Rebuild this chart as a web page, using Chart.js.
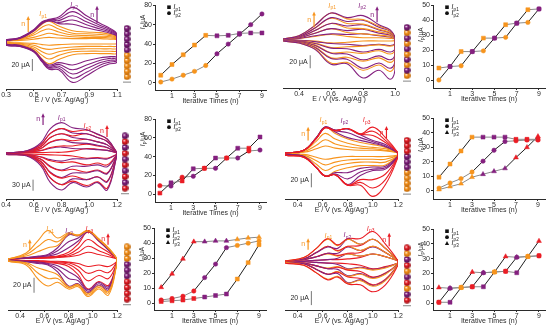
<!DOCTYPE html>
<html>
<head>
<meta charset="utf-8">
<script src="https://cdn.jsdelivr.net/npm/chart.js@4.4.0/dist/chart.umd.min.js"></script>
<style>
  html, body { margin: 0; padding: 0; background: #fff; }
  #fig { position: relative; width: 550px; height: 330px; overflow: hidden; }
  #fig canvas { position: absolute; }
</style>
</head>
<body>
<div id="fig"></div>
<script>
const FONT = "'Liberation Sans', Arial, sans-serif";
const INK = '#2b2b2b';
const COL = { o: '#f7941d', p: '#84207f', r: '#ea1d25' };
const COL_DARK = { o: '#b85f00', p: '#4a0c47', r: '#8e0a0f' };

const iterations = [0, 1, 2, 3, 4, 5, 6, 7, 8, 9];

// deposited layers, first (bottom bead) to last
const layersA = ['o', 'o', 'o', 'o', 'o', 'p', 'p', 'p', 'p', 'p'];
const layersB = ['o', 'p', 'o', 'p', 'o', 'p', 'o', 'p', 'o', 'p'];
const layersC = ['r', 'p', 'r', 'p', 'r', 'p', 'r', 'p', 'r', 'p'];
const layersD = ['o', 'o', 'o', 'o', 'p', 'p', 'p', 'r', 'r', 'r'];
const layersE = ['r', 'r', 'r', 'r', 'p', 'p', 'p', 'o', 'o', 'o'];
const layersF = ['r', 'p', 'o', 'r', 'p', 'o', 'r', 'p', 'o', 'r'];

// peak currents (uA) against iteration
const ipA1 = [8, 19, 29, 39, 49, 48.5, 49, 51, 51.5, 51.5];
const ipA2 = [1, 4, 8, 12, 18, 30, 40, 50, 60, 71];
const ipB1 = [8, 9, 19, 19, 28, 28, 37, 38, 47, 47.5];
const ipB2 = [0, 9, 9.5, 19, 19.5, 28, 28.5, 38, 38.5, 47.5];
const ipC1 = [1, 12, 14, 27, 27.5, 38.5, 38.5, 49, 49, 61];
const ipC2 = [9, 8.5, 18, 19, 27.5, 27.5, 38.5, 38.5, 46, 47];
const ipD1 = [9.5, 18.5, 27.5, 37, 37, 37, 37, 35.5, 35.5, 35.5];
const ipD2 = [2, 5.5, 8.5, 13, 20.5, 28, 34, 34.5, 35, 35];
const ipD3 = [1, 3, 5, 9.5, 11.5, 13.5, 15.5, 23, 30, 37.5];
const ipE1 = [1, 1.5, 2, 3, 4, 5, 6, 16, 27, 39];
const ipE2 = [2, 3, 4.5, 8, 17, 26, 37, 38.5, 40, 41.5];
const ipE3 = [10.5, 19.5, 29.5, 41, 41, 41.5, 41.5, 42.5, 43.5, 44];
const ipF1 = [0.5, 0.5, 10.5, 11, 11, 21, 21.5, 20.5, 31.5, 32];
const ipF2 = [0.5, 10, 10.5, 11, 20.5, 21, 21.5, 31, 31.5, 32];
const ipF3 = [10.5, 10, 10.5, 21, 20.5, 21, 31.5, 31, 31.5, 42];

// voltammograms: potential grid (V) and current (uA) on the forward / reverse sweep
const cvA_E = [0.30, 0.40, 0.50, 0.56, 0.61, 0.68, 0.78, 0.88, 0.98, 1.05, 1.10];
const cvA_up = [
  [0, 1, 3, 5, 6, 5, 4, 4, 4, 3, 2],
  [0, 2, 6, 10, 13, 10, 7, 6, 6, 5, 3],
  [0, 3, 10, 17, 20, 15, 10, 9, 8, 7, 4],
  [0, 3, 13, 23, 27, 20, 13, 12, 11, 9, 5],
  [1, 4, 16, 28, 33, 25, 17, 15, 14, 11, 6],
  [1, 4, 17, 29, 34, 29, 28, 22, 17, 13, 7],
  [1, 5, 17, 30, 34, 31, 35, 27, 20, 15, 8],
  [1, 5, 18, 30, 35, 34, 42, 32, 23, 17, 9],
  [2, 5, 18, 31, 35, 37, 49, 37, 26, 19, 10],
  [2, 6, 19, 32, 36, 40, 56, 42, 29, 21, 11]
];
const cvA_down = [
  [-2, -3, -4, -6, -7, -6, -5, -5, -5, -5, -4],
  [-3, -4, -7, -12, -14, -12, -10, -9, -9, -9, -8],
  [-4, -5, -10, -18, -22, -18, -14, -13, -13, -13, -12],
  [-4, -6, -13, -24, -30, -24, -18, -17, -17, -17, -16],
  [-5, -7, -15, -30, -38, -31, -23, -21, -21, -21, -20],
  [-5, -7, -16, -31, -40, -36, -40, -33, -28, -26, -24],
  [-6, -8, -17, -32, -42, -39, -48, -40, -32, -29, -27],
  [-6, -8, -17, -33, -44, -42, -55, -46, -36, -32, -30],
  [-7, -9, -18, -34, -45, -45, -62, -52, -40, -35, -32],
  [-7, -9, -18, -35, -47, -48, -69, -58, -44, -38, -35]
];

const cvB_E = [0.30, 0.40, 0.50, 0.60, 0.70, 0.80, 0.90, 0.97, 1.00];
const cvB_up = [
  [0, 1, 4, 7, 4, 2, 2, 1, 0],
  [0, 1, 5, 8, 7, 8, 5, 3, 0],
  [0, 2, 9, 16, 10, 8, 6, 4, 0],
  [0, 2, 9, 16, 13, 15, 9, 6, 0],
  [0, 3, 13, 24, 17, 16, 11, 7, 0],
  [0, 3, 13, 24, 20, 22, 14, 9, 1],
  [0, 4, 17, 32, 24, 23, 15, 10, 1],
  [0, 4, 17, 33, 27, 29, 18, 12, 1],
  [0, 5, 21, 40, 31, 30, 20, 13, 1],
  [0, 5, 21, 40, 33, 36, 22, 14, 1]
];
const cvB_down = [
  [-1, -2, -3, -6, -5, -3, -3, -3, -2],
  [-1, -2, -4, -7, -8, -10, -8, -10, -7],
  [-1, -3, -6, -13, -12, -11, -9, -11, -8],
  [-1, -3, -7, -14, -15, -20, -16, -20, -15],
  [-2, -4, -9, -21, -20, -22, -18, -23, -17],
  [-2, -4, -10, -22, -23, -32, -26, -32, -24],
  [-2, -5, -12, -29, -28, -34, -29, -36, -27],
  [-2, -5, -13, -30, -31, -45, -37, -45, -34],
  [-3, -6, -15, -37, -36, -48, -40, -50, -37],
  [-3, -6, -16, -39, -38, -60, -48, -62, -47]
];

const cvC_E = [0.40, 0.55, 0.65, 0.72, 0.80, 0.88, 0.98, 1.06, 1.13, 1.20];
const cvC_up = [
  [0, 1, 1, 2, 2, 5, 12, 10, 7, 0],
  [0, 2, 6, 13, 16, 12, 11, 9, 7, 0],
  [0, 2, 7, 15, 19, 19, 24, 19, 14, 0],
  [0, 3, 12, 29, 36, 28, 26, 21, 15, 0],
  [0, 3, 12, 30, 37, 33, 37, 30, 22, 0],
  [0, 4, 17, 42, 52, 42, 37, 30, 22, 0],
  [0, 4, 17, 42, 52, 46, 52, 42, 31, 0],
  [0, 5, 22, 53, 66, 54, 52, 42, 31, 0],
  [0, 5, 22, 53, 66, 58, 62, 50, 37, 0],
  [0, 6, 27, 66, 82, 68, 63, 51, 38, 0]
];
const cvC_down = [
  [-2, -3, -4, -5, -6, -8, -14, -12, -14, -3],
  [-2, -4, -10, -18, -22, -16, -16, -14, -16, -3],
  [-2, -4, -11, -21, -26, -24, -32, -27, -32, -3],
  [-2, -5, -16, -36, -46, -36, -36, -32, -37, -4],
  [-3, -5, -17, -38, -48, -44, -52, -46, -54, -4],
  [-3, -6, -22, -52, -66, -54, -54, -48, -56, -4],
  [-3, -6, -23, -54, -68, -62, -72, -64, -76, -5],
  [-3, -7, -28, -67, -85, -70, -72, -65, -78, -5],
  [-4, -7, -29, -68, -86, -76, -88, -78, -95, -5],
  [-4, -8, -34, -80, -100, -80, -92, -80, -100, -5]
];

const cvD_E = [0.30, 0.45, 0.55, 0.62, 0.70, 0.80, 0.90, 1.00, 1.10, 1.20];
const cvD_up = [
  [0, 1, 6, 10, 7, 5, 4, 4, 3, 0],
  [0, 2, 11, 19, 13, 9, 7, 6, 4, 0],
  [0, 3, 17, 28, 20, 14, 10, 8, 6, 0],
  [0, 4, 22, 37, 28, 20, 15, 12, 8, 0],
  [0, 4, 22, 37, 30, 22, 18, 14, 9, 0],
  [0, 4, 22, 37, 32, 29, 22, 16, 10, 0],
  [0, 4, 22, 37, 33, 34, 26, 18, 12, 0],
  [0, 4, 21, 36, 32, 35, 27, 25, 15, 0],
  [0, 4, 21, 36, 32, 35, 27, 31, 18, 0],
  [0, 4, 21, 36, 32, 35, 27, 37, 22, 0]
];
const cvD_down = [
  [-1, -2, -6, -9, -7, -5, -5, -5, -5, -3],
  [-1, -3, -11, -17, -13, -10, -9, -9, -9, -3],
  [-2, -4, -16, -25, -19, -15, -13, -13, -13, -4],
  [-2, -5, -21, -33, -26, -21, -18, -18, -17, -4],
  [-2, -5, -21, -33, -28, -28, -22, -20, -19, -4],
  [-2, -5, -21, -33, -30, -37, -27, -23, -21, -5],
  [-2, -5, -21, -33, -31, -45, -32, -25, -23, -5],
  [-3, -6, -21, -33, -31, -46, -38, -38, -30, -5],
  [-3, -6, -21, -33, -31, -46, -42, -50, -38, -5],
  [-3, -6, -21, -33, -31, -46, -46, -62, -45, -6]
];

const cvE_E = [0.30, 0.45, 0.55, 0.63, 0.71, 0.80, 0.88, 0.96, 1.05, 1.13, 1.20];
const cvE_up = [
  [0, 1, 1, 1, 2, 3, 5, 9, 6, 3, 0],
  [0, 1, 1, 2, 3, 4, 9, 17, 11, 6, 0],
  [0, 1, 2, 2, 3, 6, 14, 26, 17, 9, 0],
  [0, 1, 2, 3, 4, 9, 20, 36, 24, 12, 0],
  [0, 1, 3, 4, 7, 15, 24, 36, 24, 12, 0],
  [0, 2, 3, 5, 11, 23, 28, 37, 25, 13, 0],
  [0, 2, 4, 6, 15, 32, 31, 37, 25, 13, 0],
  [0, 4, 10, 15, 18, 33, 31, 37, 26, 14, 0],
  [0, 6, 17, 26, 23, 34, 32, 38, 26, 14, 0],
  [0, 8, 25, 38, 28, 35, 32, 38, 27, 15, 0]
];
const cvE_down = [
  [-1, -2, -2, -3, -3, -4, -6, -10, -8, -10, -3],
  [-1, -2, -3, -3, -4, -5, -10, -19, -15, -18, -3],
  [-1, -2, -3, -4, -5, -7, -15, -29, -22, -26, -4],
  [-2, -3, -4, -5, -6, -10, -21, -40, -30, -35, -4],
  [-2, -3, -4, -6, -9, -17, -25, -41, -31, -37, -4],
  [-2, -3, -5, -7, -13, -26, -29, -43, -33, -39, -5],
  [-2, -4, -6, -8, -17, -36, -33, -45, -35, -41, -5],
  [-2, -5, -12, -16, -21, -37, -34, -46, -36, -43, -5],
  [-3, -6, -19, -26, -26, -38, -35, -48, -38, -45, -5],
  [-3, -8, -27, -36, -31, -40, -37, -50, -40, -48, -6]
];

const cvF_E = [0.30, 0.45, 0.55, 0.64, 0.72, 0.80, 0.90, 1.00, 1.10, 1.20];
const cvF_up = [
  [0, 0, 1, 2, 2, 3, 5, 10, 6, 0],
  [0, 0, 1, 2, 4, 10, 7, 10, 6, 0],
  [0, 2, 6, 10, 7, 10, 7, 10, 6, 0],
  [0, 2, 6, 11, 8, 11, 12, 21, 12, 0],
  [0, 2, 6, 11, 11, 20, 15, 20, 12, 0],
  [0, 3, 12, 21, 14, 21, 15, 21, 12, 0],
  [0, 3, 12, 21, 15, 21, 22, 31, 18, 0],
  [0, 3, 12, 20, 18, 31, 24, 31, 18, 0],
  [0, 5, 18, 31, 22, 31, 24, 31, 18, 0],
  [0, 5, 18, 32, 23, 32, 32, 42, 24, 0]
];
const cvF_down = [
  [-1, -1, -2, -3, -3, -4, -6, -11, -8, -3],
  [-1, -1, -2, -3, -5, -11, -9, -12, -9, -3],
  [-1, -3, -7, -10, -8, -12, -10, -13, -10, -3],
  [-1, -3, -7, -11, -9, -13, -15, -23, -17, -4],
  [-2, -3, -7, -11, -12, -21, -18, -24, -18, -4],
  [-2, -4, -12, -19, -15, -22, -19, -25, -19, -4],
  [-2, -4, -12, -19, -16, -23, -25, -34, -26, -5],
  [-2, -4, -12, -19, -18, -31, -27, -35, -27, -5],
  [-2, -6, -17, -26, -22, -32, -28, -36, -28, -5],
  [-3, -6, -17, -27, -23, -33, -34, -44, -34, -6]
];

const cvTicks03 = [0.3, 0.5, 0.7, 0.9, 1.1];
const cvTicks04 = [0.4, 0.6, 0.8, 1.0];
const cvTicks12 = [0.4, 0.6, 0.8, 1.0, 1.2];
const nTicks = [1, 3, 5, 7, 9];
const ipTicks80 = [0, 20, 40, 60, 80];
const ipTicks50 = [0, 10, 20, 30, 40, 50];

const fig = document.getElementById('fig');

function addCanvas(left, top, width, height) {
  const c = document.createElement('canvas');
  c.width = width;
  c.height = height;
  c.style.left = left + 'px';
  c.style.top = top + 'px';
  c.style.width = width + 'px';
  c.style.height = height + 'px';
  fig.appendChild(c);
  return c;
}

// italic I with a small subscript, centred on x
function drawIp(ctx, x, y, sub, color, size, align) {
  ctx.save();
  ctx.fillStyle = color;
  ctx.textBaseline = 'middle';
  ctx.font = 'italic ' + size + 'px ' + FONT;
  const wI = ctx.measureText('I').width;
  ctx.font = (size * 0.7) + 'px ' + FONT;
  const wS = ctx.measureText(sub).width;
  let x0 = align === 'left' ? x : x - (wI + wS) / 2;
  ctx.font = 'italic ' + size + 'px ' + FONT;
  ctx.textAlign = 'left';
  ctx.fillText('I', x0, y);
  ctx.font = (size * 0.7) + 'px ' + FONT;
  ctx.fillText(sub, x0 + wI + 0.3, y + size * 0.32);
  ctx.restore();
}

function xAxis(min, max, ticks, title, height, fmt) {
  return {
    type: 'linear',
    min: min,
    max: max,
    afterBuildTicks: s => { s.ticks = ticks.map(v => ({ value: v })); },
    afterFit: s => { s.height = height; },
    ticks: { color: INK, font: { size: 7, family: FONT }, padding: 0, maxRotation: 0, autoSkip: false, callback: fmt },
    grid: { drawOnChartArea: false, tickLength: 2, color: INK, tickColor: INK },
    border: { color: INK, width: 1 },
    title: { display: true, text: title, color: INK, font: { size: 7, family: FONT }, padding: 0 }
  };
}

function cvNotes(spec) {
  return {
    id: 'cvNotes',
    afterDatasetsDraw(chart) {
      const ctx = chart.ctx, xs = chart.scales.x, ys = chart.scales.y;
      spec.peaks.forEach(p => {
        drawIp(ctx, xs.getPixelForValue(p.E), ys.getPixelForValue(p.y), p.sub, COL[p.k], 7);
      });
      spec.arrows.forEach(a => {
        const x = xs.getPixelForValue(a.E);
        const y0 = ys.getPixelForValue(a.y0), y1 = ys.getPixelForValue(a.y1);
        ctx.save();
        ctx.strokeStyle = COL[a.k];
        ctx.fillStyle = COL[a.k];
        ctx.lineWidth = 1.2;
        ctx.beginPath();
        ctx.moveTo(x, y0);
        ctx.lineTo(x, y1 + 2);
        ctx.stroke();
        ctx.beginPath();
        ctx.moveTo(x, y1 - 1);
        ctx.lineTo(x - 1.8, y1 + 3);
        ctx.lineTo(x + 1.8, y1 + 3);
        ctx.closePath();
        ctx.fill();
        ctx.font = '7px ' + FONT;
        ctx.textAlign = 'right';
        ctx.textBaseline = 'middle';
        ctx.fillText('n', x - 3, (y0 + y1) / 2);
        ctx.restore();
      });
      const b = spec.bar;
      ctx.save();
      ctx.fillStyle = INK;
      ctx.font = '7px ' + FONT;
      ctx.textAlign = 'right';
      ctx.textBaseline = 'middle';
      ctx.fillText(b.size + ' μA', xs.getPixelForValue(b.E) - 2.5, ys.getPixelForValue(b.y0 + b.size / 2));
      ctx.restore();
    }
  };
}

function cvChart(spec) {
  const [l, t, r, b] = spec.box;
  const padL = 12, padR = 12, axisH = 15;
  const cv = addCanvas(l - padL, t, r - l + padL + padR, b - t + axisH);
  const sets = spec.up.map((u, n) => {
    const fwd = spec.E.map((e, i) => ({ x: e, y: u[i] }));
    const back = spec.E.map((e, i) => ({ x: e, y: spec.down[n][i] })).reverse();
    return {
      data: fwd.concat(back, [fwd[0]]),
      borderColor: COL[spec.layers[n]],
      borderWidth: 1.1,
      pointRadius: 0,
      tension: 0.4,
      order: 20 - n
    };
  });
  // scale bar
  sets.push({
    data: [{ x: spec.bar.E, y: spec.bar.y0 }, { x: spec.bar.E, y: spec.bar.y0 + spec.bar.size }],
    borderColor: '#777',
    borderWidth: 1,
    pointRadius: 0,
    order: 0
  });
  new Chart(cv, {
    type: 'line',
    data: { datasets: sets },
    options: {
      responsive: false,
      animation: false,
      devicePixelRatio: 1,
      layout: { padding: { left: padL, right: padR, top: 0, bottom: 0 } },
      plugins: { legend: { display: false }, tooltip: { enabled: false } },
      scales: {
        x: xAxis(spec.xmin, spec.xmax, spec.ticks, 'E / V (vs. Ag/Ag\u207A)', axisH, v => v.toFixed(1)),
        y: { display: false, min: spec.ymin, max: spec.ymax }
      }
    },
    plugins: [cvNotes(spec)]
  });
}

function ipNotes(spec) {
  return {
    id: 'ipNotes',
    afterDraw(chart) {
      const ctx = chart.ctx, area = chart.chartArea;
      // legend
      spec.series.forEach((s, i) => {
        const x = area.left + 14, y = area.top + 2 + i * 6;
        ctx.save();
        ctx.fillStyle = '#111';
        ctx.beginPath();
        if (s.marker === 'rect') ctx.rect(x - 1.8, y - 1.8, 3.6, 3.6);
        else if (s.marker === 'circle') ctx.arc(x, y, 1.9, 0, Math.PI * 2);
        else { ctx.moveTo(x, y - 2.2); ctx.lineTo(x - 2.1, y + 1.7); ctx.lineTo(x + 2.1, y + 1.7); ctx.closePath(); }
        ctx.fill();
        ctx.restore();
        drawIp(ctx, x + 4.5, y, s.sub, '#111', 6.5, 'left');
      });
      // y title, rotated
      const tx = area.left - 12;
      const ty = area.top + spec.titleAt * (area.bottom - area.top);
      ctx.save();
      ctx.translate(tx, ty);
      ctx.rotate(-Math.PI / 2);
      ctx.fillStyle = INK;
      ctx.textBaseline = 'middle';
      ctx.font = 'italic 6.5px ' + FONT;
      const wI = ctx.measureText('I').width;
      ctx.font = '4.5px ' + FONT;
      const wP = ctx.measureText('p').width;
      ctx.font = '6.5px ' + FONT;
      const wU = ctx.measureText('/μA').width;
      let x0 = -(wI + wP + wU) / 2;
      ctx.font = 'italic 6.5px ' + FONT;
      ctx.fillText('I', x0, 0);
      ctx.font = '4.5px ' + FONT;
      ctx.fillText('p', x0 + wI + 0.2, 1.8);
      ctx.font = '6.5px ' + FONT;
      ctx.fillText('/μA', x0 + wI + wP + 0.4, 0);
      ctx.restore();
    }
  };
}

function ipChart(spec) {
  const [l, t, r, b] = spec.box;
  const axisW = 12, padL = 8, padR = 8, padT = 5, axisH = 15;
  const cv = addCanvas(l - axisW - padL, t - padT, r - l + axisW + padL + padR, b - t + padT + axisH);
  const sets = spec.series.map(s => ({
    data: s.values.map((v, n) => ({ x: iterations[n], y: v })),
    pointStyle: s.marker,
    pointRadius: s.marker === 'circle' ? 2.2 : 2.8,
    pointBackgroundColor: spec.layers.map(k => COL[k]),
    pointBorderColor: spec.layers.map(k => COL[k]),
    pointBorderWidth: 0.5,
    borderWidth: 1,
    tension: 0,
    segment: {
      // black while the series' own layer is being added, grey otherwise
      borderColor: c => spec.layers[c.p1DataIndex] === s.own ? '#1e1e1e' : '#8a8a8a'
    }
  }));
  new Chart(cv, {
    type: 'line',
    data: { datasets: sets },
    options: {
      responsive: false,
      animation: false,
      devicePixelRatio: 1,
      layout: { padding: { left: padL, right: padR, top: padT, bottom: 0 } },
      plugins: { legend: { display: false }, tooltip: { enabled: false } },
      scales: {
        x: xAxis(spec.xmin, spec.xmax, nTicks, 'Iterative Times (n)', axisH),
        y: {
          min: spec.ymin,
          max: spec.ymax,
          afterBuildTicks: s => { s.ticks = spec.yticks.map(v => ({ value: v })); },
          afterFit: s => { s.width = axisW; },
          ticks: { color: INK, font: { size: 7, family: FONT }, padding: 1, autoSkip: false },
          grid: { drawOnChartArea: false, tickLength: 2, color: INK, tickColor: INK },
          border: { color: INK, width: 1 }
        }
      }
    },
    plugins: [ipNotes(spec)]
  });
}

// shaded bead sprite for the layer columns
function beadSprite(k) {
  const c = document.createElement('canvas');
  c.width = 7;
  c.height = 7;
  const g = c.getContext('2d');
  const grd = g.createRadialGradient(2.6, 2.4, 0.3, 3.5, 3.5, 3.6);
  grd.addColorStop(0, '#ffffff');
  grd.addColorStop(0.3, COL[k]);
  grd.addColorStop(1, COL_DARK[k]);
  g.fillStyle = grd;
  g.beginPath();
  g.arc(3.5, 3.5, 3.3, 0, Math.PI * 2);
  g.fill();
  return c;
}
const BEAD = { o: beadSprite('o'), p: beadSprite('p'), r: beadSprite('r') };

const beadBase = {
  id: 'beadBase',
  beforeDatasetsDraw(chart) {
    const el = chart.getDatasetMeta(0).data[0];
    const ctx = chart.ctx;
    ctx.save();
    ctx.strokeStyle = '#999';
    ctx.lineWidth = 1.2;
    ctx.beginPath();
    ctx.moveTo(el.x - 4, el.y + 5.5);
    ctx.lineTo(el.x + 4, el.y + 5.5);
    ctx.stroke();
    ctx.restore();
  }
};

function beadChart(layers, cx, yBottom, yTop) {
  const s = (yBottom - yTop) / 9;
  const top = Math.round(yTop - s), bottom = Math.round(yBottom + s);
  const cv = addCanvas(cx - 7, top, 14, bottom - top);
  new Chart(cv, {
    type: 'scatter',
    data: {
      datasets: [{
        data: layers.map((k, n) => ({ x: 0, y: iterations[n] })),
        pointStyle: layers.map(k => BEAD[k]),
        pointRadius: 3.5,
        clip: false
      }]
    },
    options: {
      responsive: false,
      animation: false,
      devicePixelRatio: 1,
      layout: { padding: 0 },
      plugins: { legend: { display: false }, tooltip: { enabled: false } },
      scales: {
        x: { display: false, min: -1, max: 1 },
        y: { display: false, min: -1, max: 10 }
      }
    },
    plugins: [beadBase]
  });
}

// row 1
cvChart({
  box: [6, 2, 117, 89], xmin: 0.3, xmax: 1.1, ymin: -80, ymax: 65, ticks: cvTicks03,
  E: cvA_E, up: cvA_up, down: cvA_down, layers: layersA,
  peaks: [{ E: 0.567, y: 45, sub: 'p1', k: 'o' }, { E: 0.79, y: 60, sub: 'p2', k: 'p' }],
  arrows: [{ E: 0.46, y0: 15, y1: 40, k: 'o' }, { E: 0.956, y0: 30, y1: 57, k: 'p' }],
  bar: { E: 0.49, y0: -50, size: 20 }
});
beadChart(layersA, 127, 81, 24);
ipChart({
  box: [155, 5, 266, 90], xmin: -0.51, xmax: 9.36, ymin: -7.2, ymax: 80, yticks: ipTicks80,
  layers: layersA, titleAt: 0.2,
  series: [
    { values: ipA1, marker: 'rect', sub: 'p1', own: 'o' },
    { values: ipA2, marker: 'circle', sub: 'p2', own: 'p' }
  ]
});

cvChart({
  box: [283, 2, 395, 88], xmin: 0.3, xmax: 1.0, ymin: -75.4, ymax: 57, ticks: cvTicks04,
  E: cvB_E, up: cvB_up, down: cvB_down, layers: layersB,
  peaks: [{ E: 0.606, y: 51, sub: 'p1', k: 'o' }, { E: 0.794, y: 51, sub: 'p2', k: 'p' }],
  arrows: [{ E: 0.494, y0: 18, y1: 41, k: 'o' }, { E: 0.888, y0: 26, y1: 49, k: 'p' }],
  bar: { E: 0.47, y0: -45, size: 20 }
});
beadChart(layersB, 407, 80, 23);
ipChart({
  box: [433, 5, 545, 88], xmin: -0.53, xmax: 9.54, ymin: -5.33, ymax: 50, yticks: ipTicks50,
  layers: layersB, titleAt: 0.36,
  series: [
    { values: ipB1, marker: 'rect', sub: 'p1', own: 'o' },
    { values: ipB2, marker: 'circle', sub: 'p2', own: 'p' }
  ]
});

// row 2
cvChart({
  box: [6, 108, 117, 199], xmin: 0.4, xmax: 1.2, ymin: -124.3, ymax: 121.6, ticks: cvTicks12,
  E: cvC_E, up: cvC_up, down: cvC_down, layers: layersC,
  peaks: [{ E: 0.80, y: 95, sub: 'p1', k: 'p' }, { E: 0.985, y: 73, sub: 'p2', k: 'r' }],
  arrows: [{ E: 0.667, y0: 76, y1: 105, k: 'p' }, { E: 1.128, y0: 43, y1: 73, k: 'r' }],
  bar: { E: 0.595, y0: -102, size: 30 }
});
beadChart(layersC, 125, 192, 132);
ipChart({
  box: [155, 119, 266, 202], xmin: -0.44, xmax: 9.54, ymin: -8.5, ymax: 80, yticks: ipTicks80,
  layers: layersC, titleAt: 0.24,
  series: [
    { values: ipC1, marker: 'rect', sub: 'p1', own: 'p' },
    { values: ipC2, marker: 'circle', sub: 'p2', own: 'r' }
  ]
});

cvChart({
  box: [285, 108, 398, 199], xmin: 0.3, xmax: 1.2, ymin: -65.7, ymax: 64.3, ticks: cvTicks12,
  E: cvD_E, up: cvD_up, down: cvD_down, layers: layersD,
  peaks: [{ E: 0.604, y: 47, sub: 'p1', k: 'o' }, { E: 0.772, y: 46, sub: 'p2', k: 'p' }, { E: 0.948, y: 47, sub: 'p3', k: 'r' }],
  arrows: [{ E: 0.484, y0: 18, y1: 36, k: 'o' }, { E: 1.108, y0: 21, y1: 37, k: 'r' }],
  bar: { E: 0.51, y0: -49, size: 20 }
});
beadChart(layersD, 407, 193, 136);
ipChart({
  box: [433, 118, 545, 199], xmin: -0.55, xmax: 9.64, ymin: -5.5, ymax: 50, yticks: ipTicks50,
  layers: layersD, titleAt: 0.33,
  series: [
    { values: ipD1, marker: 'rect', sub: 'p1', own: 'o' },
    { values: ipD2, marker: 'circle', sub: 'p2', own: 'p' },
    { values: ipD3, marker: 'triangle', sub: 'p3', own: 'r' }
  ]
});

// row 3
cvChart({
  box: [8, 218, 117, 310], xmin: 0.3, xmax: 1.2, ymin: -68, ymax: 54.7, ticks: cvTicks12,
  E: cvE_E, up: cvE_up, down: cvE_down, layers: layersE,
  peaks: [{ E: 0.647, y: 40, sub: 'p1', k: 'o' }, { E: 0.804, y: 37, sub: 'p2', k: 'p' }, { E: 0.97, y: 40, sub: 'p3', k: 'r' }],
  arrows: [{ E: 0.48, y0: 12, y1: 25, k: 'o' }, { E: 1.126, y0: 19, y1: 33, k: 'r' }],
  bar: { E: 0.515, y0: -45, size: 20 }
});
beadChart(layersE, 127, 303, 243);
ipChart({
  box: [154, 228, 266, 310], xmin: -0.66, xmax: 9.64, ymin: -4.67, ymax: 50, yticks: ipTicks50,
  layers: layersE, titleAt: 0.32,
  series: [
    { values: ipE1, marker: 'rect', sub: 'p1', own: 'o' },
    { values: ipE2, marker: 'circle', sub: 'p2', own: 'p' },
    { values: ipE3, marker: 'triangle', sub: 'p3', own: 'r' }
  ]
});

cvChart({
  box: [285, 218, 398, 310], xmin: 0.3, xmax: 1.2, ymin: -70, ymax: 61.4, ticks: cvTicks12,
  E: cvF_E, up: cvF_up, down: cvF_down, layers: layersF,
  peaks: [{ E: 0.644, y: 36, sub: 'p1', k: 'o' }, { E: 0.796, y: 37, sub: 'p2', k: 'p' }, { E: 0.98, y: 46, sub: 'p3', k: 'r' }],
  arrows: [{ E: 0.484, y0: 16, y1: 31, k: 'o' }, { E: 1.13, y0: 21, y1: 39, k: 'r' }],
  bar: { E: 0.51, y0: -63, size: 20 }
});
beadChart(layersF, 407, 304, 244);
ipChart({
  box: [433, 229, 545, 310], xmin: -0.53, xmax: 9.54, ymin: -4.73, ymax: 50, yticks: ipTicks50,
  layers: layersF, titleAt: 0.25,
  series: [
    { values: ipF1, marker: 'rect', sub: 'p1', own: 'o' },
    { values: ipF2, marker: 'circle', sub: 'p2', own: 'p' },
    { values: ipF3, marker: 'triangle', sub: 'p3', own: 'r' }
  ]
});
</script>
</body>
</html>
